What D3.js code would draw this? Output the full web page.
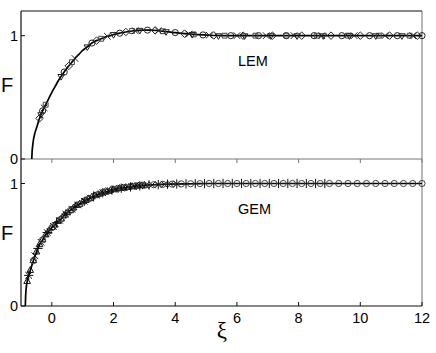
<!DOCTYPE html>
<html>
<head>
<meta charset="utf-8">
<script src="https://cdn.jsdelivr.net/npm/d3@7"></script>
<style>
  body { margin: 0; background: #fff; }
  text { font-family: "Liberation Sans", Arial, sans-serif; }
</style>
</head>
<body>
<div class="svg"></div>
<script>
// curves
const lemXi = [-0.65, -0.64, -0.62, -0.6, -0.55, -0.5, -0.45, -0.4, -0.3, -0.2, -0.1, 0, 0.1, 0.2, 0.3, 0.4, 0.5, 0.6, 0.7, 0.8, 0.9, 1.0, 1.1, 1.2, 1.3, 1.4, 1.5, 1.6, 1.7, 1.8, 1.9, 2.0, 2.2, 2.4, 2.6, 2.8, 3.0, 3.2, 3.4, 3.6, 3.8, 4.0, 4.3, 4.6, 5.0, 5.5, 6, 8, 10, 12];
const lemF  = [0, 0.06, 0.11, 0.15, 0.21, 0.25, 0.29, 0.33, 0.39, 0.44, 0.49, 0.54, 0.585, 0.63, 0.67, 0.705, 0.74, 0.77, 0.8, 0.83, 0.855, 0.88, 0.9, 0.92, 0.94, 0.955, 0.965, 0.975, 0.985, 0.995, 1.0, 1.01, 1.02, 1.03, 1.038, 1.043, 1.045, 1.045, 1.042, 1.036, 1.03, 1.025, 1.016, 1.01, 1.005, 1.0, 1.0, 1.0, 1.0, 1.0];

const gemXi = [-0.86, -0.85, -0.83, -0.8, -0.75, -0.7, -0.6, -0.5, -0.4, -0.3, -0.2, -0.1, 0, 0.1, 0.2, 0.3, 0.4, 0.5, 0.6, 0.7, 0.8, 0.9, 1.0, 1.2, 1.4, 1.6, 1.8, 2.0, 2.2, 2.4, 2.6, 2.8, 3.0, 3.3, 3.6, 4.0, 4.5, 5.0, 8, 12];
const gemF  = [0, 0.08, 0.15, 0.2, 0.25, 0.29, 0.37, 0.44, 0.5, 0.54, 0.58, 0.61, 0.64, 0.66, 0.69, 0.71, 0.74, 0.76, 0.78, 0.8, 0.82, 0.83, 0.85, 0.875, 0.9, 0.92, 0.935, 0.95, 0.96, 0.967, 0.974, 0.98, 0.985, 0.99, 0.993, 0.996, 0.998, 1.0, 1.0, 1.0];

// LEM markers (several runs)
const lemCircleXi = [-0.3, 0.4, 1.3, 2.2, 3.1, 4.0, 4.9, 5.8, 6.7, 7.6, 8.5, 9.4, 10.3, 11.2, 12.0];
const lemCircleF  = [0.39, 0.705, 0.94, 1.02, 1.045, 1.025, 1.006, 1.0, 1.0, 1.0, 1.0, 1.0, 1.0, 1.0, 1.0];
const lemDiamondXi = [-0.4, 0.55, 1.45, 2.4, 3.35, 4.3, 5.25, 6.2, 7.15, 8.1, 9.05, 10.0, 10.95, 11.85];
const lemDiamondF  = [0.33, 0.755, 0.96, 1.03, 1.043, 1.016, 1.002, 1.0, 1.0, 1.0, 1.0, 1.0, 1.0, 1.0];
const lemSquareXi = [-0.2, 0.65, 1.6, 2.6, 3.6, 4.6, 5.6, 6.6, 7.6, 8.6, 9.6, 10.6, 11.6];
const lemSquareF  = [0.44, 0.785, 0.975, 1.038, 1.036, 1.01, 1.0, 1.0, 1.0, 1.0, 1.0, 1.0, 1.0];
const lemTriXi = [-0.35, 0.3, 1.15, 2.0, 2.85, 3.7, 4.55, 5.4, 6.25, 7.1, 7.95, 8.8, 9.65, 10.5, 11.35];
const lemTriF  = [0.36, 0.67, 0.91, 1.01, 1.044, 1.033, 1.011, 1.0, 1.0, 1.0, 1.0, 1.0, 1.0, 1.0, 1.0];
const lemTimesXi = [-0.25, 0.75, 1.8, 2.7, 3.45, 4.45, 5.1, 6.0, 6.95, 7.85, 8.75, 9.8, 10.8, 11.7];
const lemTimesF  = [0.415, 0.815, 0.995, 1.04, 1.041, 1.013, 1.004, 1.0, 1.0, 1.0, 1.0, 1.0, 1.0, 1.0];

// GEM markers
const gemCircleXi = [-0.6, -0.3, 0, 0.3, 0.6, 0.9, 1.2, 1.5, 1.8, 2.1, 2.4, 2.7, 3.0, 3.3, 3.6, 3.9, 4.2, 4.5, 4.8, 5.1, 5.4, 5.7, 6.0, 6.3, 6.6, 6.9, 7.2, 7.5, 7.8, 8.1, 8.4, 8.7, 9.0, 9.3, 9.6, 9.9, 10.2, 10.5, 10.8, 11.1, 11.4, 11.7, 12.0];
const gemCircleF  = [0.37, 0.54, 0.64, 0.71, 0.78, 0.83, 0.875, 0.91, 0.935, 0.955, 0.967, 0.977, 0.985, 0.99, 0.993, 0.995, 0.997, 0.998, 0.999, 1, 1, 1, 1, 1, 1, 1, 1, 1, 1, 1, 1, 1, 1, 1, 1, 1, 1, 1, 1, 1, 1, 1, 1];
const gemPlusXi = [-0.75, -0.45, -0.15, 0.15, 0.45, 0.75, 1.05, 1.35, 1.65, 1.95, 2.25, 2.55, 2.85, 3.15, 3.45, 3.75, 4.05, 4.35, 4.65, 4.95, 5.25, 5.55, 5.85, 6.15, 6.45, 6.75, 7.05, 7.35, 7.65, 7.95, 8.25, 8.55, 8.85];
const gemPlusF  = [0.25, 0.47, 0.6, 0.68, 0.75, 0.81, 0.855, 0.895, 0.924, 0.947, 0.962, 0.972, 0.981, 0.988, 0.991, 0.994, 0.996, 0.997, 0.998, 0.999, 1, 1, 1, 1, 1, 1, 1, 1, 1, 1, 1, 1, 1];
const gemTriXi = [-0.8, -0.7, -0.6, -0.5, -0.4, -0.3, -0.2, -0.1, 0, 0.1, 0.2, 0.3, 0.4, 0.5, 0.6, 0.7, 0.8, 0.9, 1.0, 1.1, 1.2, 1.3, 1.4, 1.5, 1.6, 1.7, 1.8, 1.9, 2.0, 2.1, 2.2, 2.3, 2.4, 2.5, 2.6, 2.7, 2.8, 2.9, 3.0];
const gemTriF  = [0.2, 0.29, 0.37, 0.44, 0.5, 0.54, 0.58, 0.61, 0.64, 0.66, 0.69, 0.71, 0.74, 0.76, 0.78, 0.8, 0.82, 0.83, 0.85, 0.86, 0.875, 0.89, 0.9, 0.91, 0.92, 0.928, 0.935, 0.943, 0.95, 0.955, 0.96, 0.964, 0.967, 0.97, 0.974, 0.977, 0.98, 0.982, 0.985];
const gemTimesXi = [-0.75, -0.55, -0.35, -0.15, 0.05, 0.25, 0.45, 0.65, 0.85, 1.05, 1.25, 1.45, 1.65, 1.85, 2.05, 2.25, 2.45, 2.65, 2.85, 3.05, 3.25, 3.45, 3.65, 3.85, 4.05];
const gemTimesF  = [0.25, 0.41, 0.52, 0.6, 0.65, 0.7, 0.75, 0.79, 0.825, 0.855, 0.88, 0.905, 0.924, 0.94, 0.952, 0.962, 0.969, 0.976, 0.981, 0.986, 0.989, 0.991, 0.993, 0.995, 0.996];

const xTicks = [0, 2, 4, 6, 8, 10, 12];
const yTicks = [0, 1];

const width = 436, height = 353;
const left = 21, right = 422;
const top1 = 11, bot1 = 159, top2 = 159, bot2 = 306;

let svg = d3.select('.svg').append('svg').attr('width', width).attr('height', height);

let x = d3.scaleLinear().domain([-1, 12]).range([left, right]);
let y1 = d3.scaleLinear().domain([0, 1.2]).range([bot1, top1]);
let y2 = d3.scaleLinear().domain([0, 1.2]).range([bot2, top2]);

function pts(xs, ys) { return xs.map((v, i) => [v, ys[i]]); }

function drawPanel(y, curveXi, curveF, series, label, labelY, bottomAxis) {
    let g = svg.append('g');

    // frame
    g.append('line').attr('x1', right).attr('x2', right).attr('y1', y.range()[1]).attr('y2', y.range()[0])
        .attr('stroke', '#888').attr('stroke-width', 1.2);
    if (bottomAxis) {
        g.append('line').attr('x1', left).attr('x2', right).attr('y1', y(0)).attr('y2', y(0))
            .attr('stroke', '#111').attr('stroke-width', 1.2);
        xTicks.forEach(t => {
            g.append('line').attr('x1', x(t)).attr('x2', x(t)).attr('y1', y(0)).attr('y2', y(0) - 4)
                .attr('stroke', '#111');
            g.append('text').attr('x', x(t)).attr('y', y(0) + 17).attr('text-anchor', 'middle')
                .attr('font-size', 14.5).text(t);
        });
    } else {
        g.append('line').attr('x1', left).attr('x2', right).attr('y1', y.range()[1]).attr('y2', y.range()[1])
            .attr('stroke', '#111').attr('stroke-width', 1.2);
        g.append('line').attr('x1', left).attr('x2', right).attr('y1', y(0)).attr('y2', y(0))
            .attr('stroke', '#777').attr('stroke-width', 1.2);
        xTicks.forEach(t => {
            g.append('line').attr('x1', x(t)).attr('x2', x(t)).attr('y1', y(0)).attr('y2', y(0) + 4)
                .attr('stroke', '#777');
        });
    }

    yTicks.forEach(t => {
        g.append('line').attr('x1', left).attr('x2', left + 4).attr('y1', y(t)).attr('y2', y(t))
            .attr('stroke', '#111');
        g.append('text').attr('x', left - 3).attr('y', y(t) + 5).attr('text-anchor', 'end')
            .attr('font-size', 14.5).text(t);
    });

    g.append('text').attr('x', 1).attr('y', (y(0) + y(1.2)) / 2 + 7).attr('font-size', 20).text('F');
    g.append('text').attr('x', 238).attr('y', labelY).attr('font-size', 14.5).text(label);

    let line = d3.line().x(d => x(d[0])).y(d => y(d[1])).curve(d3.curveMonotoneX);
    g.append('path').datum(pts(curveXi, curveF)).attr('d', line)
        .attr('fill', 'none').attr('stroke', '#000').attr('stroke-width', 1.7);

    series.forEach(s => {
        let sym = d3.symbol().type(s.type).size(s.size);
        g.selectAll(null).data(pts(s.xi, s.f)).enter().append('path')
            .attr('d', sym)
            .attr('transform', d => 'translate(' + x(d[0]) + ',' + y(d[1]) + ')' + (s.flip ? ' rotate(180)' : ''))
            .attr('fill', 'none').attr('stroke', s.color).attr('stroke-width', 1);
    });
}

drawPanel(y1, lemXi, lemF, [
    {xi: lemCircleXi, f: lemCircleF, type: d3.symbolCircle, size: 30, color: '#222'},
    {xi: lemDiamondXi, f: lemDiamondF, type: d3.symbolDiamond2, size: 36, color: '#222'},
    {xi: lemSquareXi, f: lemSquareF, type: d3.symbolSquare2, size: 30, color: '#444'},
    {xi: lemTriXi, f: lemTriF, type: d3.symbolTriangle2, size: 30, color: '#222', flip: true},
    {xi: lemTimesXi, f: lemTimesF, type: d3.symbolTimes, size: 30, color: '#222'}
], 'LEM', 66, false);

drawPanel(y2, gemXi, gemF, [
    {xi: gemTriXi, f: gemTriF, type: d3.symbolTriangle2, size: 32, color: '#111'},
    {xi: gemTimesXi, f: gemTimesF, type: d3.symbolTimes, size: 30, color: '#111'},
    {xi: gemPlusXi, f: gemPlusF, type: d3.symbolPlus, size: 30, color: '#111'},
    {xi: gemCircleXi, f: gemCircleF, type: d3.symbolCircle, size: 30, color: '#444'}
], 'GEM', 214, true);

// shared left axis
svg.append('line').attr('x1', left).attr('x2', left).attr('y1', top1).attr('y2', bot2)
    .attr('stroke', '#111').attr('stroke-width', 1.2);

svg.append('text').attr('x', 222).attr('y', 338).attr('text-anchor', 'middle')
    .style('font-family', '"Liberation Serif", "DejaVu Serif", serif').attr('font-size', 23).text('ξ');
</script>
</body>
</html>
